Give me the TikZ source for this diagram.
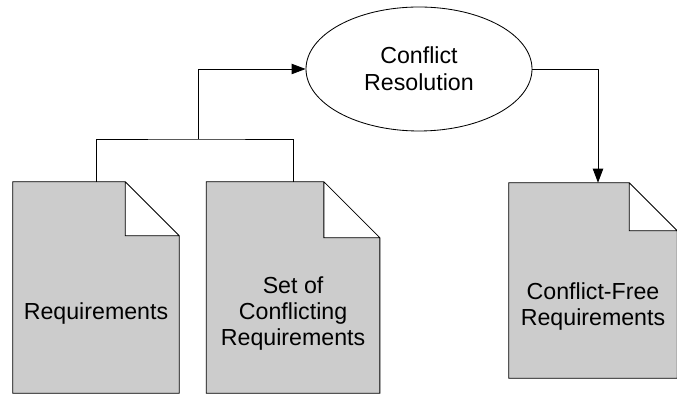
\documentclass[tikz,border=0pt]{standalone}
\usepackage{fontspec}
\setmainfont{Liberation Sans}
\usetikzlibrary{arrows.meta,positioning,calc,shapes.geometric,backgrounds}
\definecolor{PageGray}{RGB}{204,204,204}
\tikzset{
  process/.style={draw, ellipse, line width=0.6pt, minimum width=5.65cm,
    minimum height=3.1cm, align=center, font=\fontsize{16.5}{19}\selectfont},
  docpage/.style={minimum height=5.275cm, inner sep=0pt},
  doctext/.style={yshift=-6.4mm, align=center,
    font=\fontsize{16.5}{18.5}\selectfont},
  page/.style={draw, fill=PageGray, line width=0.6pt},
  link/.style={line width=0.6pt},
  arrow/.style={link, -{Triangle[length=3.5mm,width=2.6mm]}}
}

\begin{document}
\begin{tikzpicture}
  \useasboundingbox (0,0) rectangle (16.925,9.85);

  \node[docpage, minimum width=4.15cm,
    label={[doctext]center:Requirements}] (req) at (2.4,2.6625) {};
  \node[docpage, minimum width=4.325cm, right=6.75mm of req,
    label={[doctext]center:{Set of\\Conflicting\\Requirements}}] (conf) {};

  \node[process] (res) at (10.475,8.125) {Conflict\\Resolution};

  \node[docpage, minimum width=4.2cm, minimum height=4.875cm,
    label={[doctext]center:{Conflict-Free\\Requirements}}] (free) at (14.825,2.8375) {};

  % dog-eared pages behind the labels
  \begin{scope}[on background layer]
    \foreach \doc/\fold in {req/1.35, conf/1.4, free/1.2}
      \draw[page] (\doc.north west) -- ([xshift=-\fold cm]\doc.north east)
        -- ([yshift=-\fold cm]\doc.north east) -- (\doc.south east)
        -- (\doc.south west) -- cycle
        ([xshift=-\fold cm]\doc.north east) |- ([yshift=-\fold cm]\doc.north east);
  \end{scope}

  \coordinate (merge) at (4.95,6.375);
  \draw[link] (req.north) |- (merge) -| (conf.north);
  \draw[arrow] (merge) |- (res.west);
  \draw[arrow] (res.east) -| ([xshift=1.25mm]free.north);
\end{tikzpicture}
\end{document}
